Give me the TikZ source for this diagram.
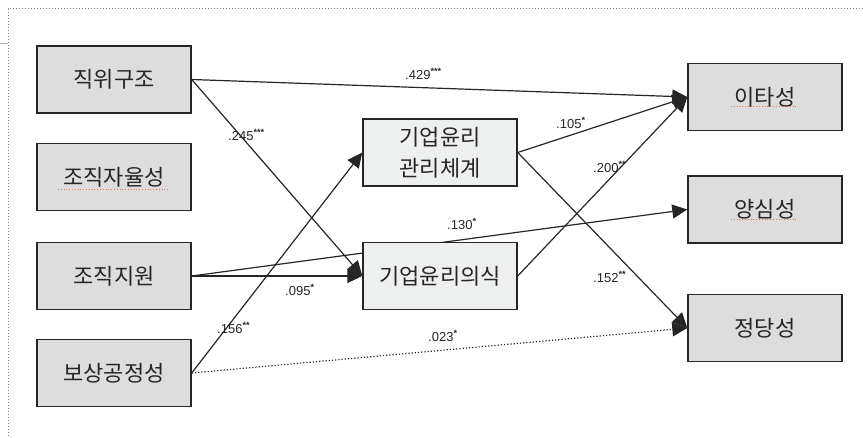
\documentclass[tikz,border=0pt]{standalone}
\usepackage{fontspec}
\setmainfont{Liberation Sans}
\newfontfamily\kofont{Noto Sans CJK KR}
\usetikzlibrary{arrows.meta,backgrounds}
\definecolor{boxGray}{HTML}{DDDDDD}
\definecolor{boxLight}{HTML}{EEF0F0}
\definecolor{lineDark}{HTML}{262626}
\definecolor{spellOrange}{HTML}{E8783A}

\begin{document}
\begin{tikzpicture}[x=1pt, y=-1pt, >={Triangle[length=15pt,width=14pt]},
    varbox/.style={draw=lineDark, line width=1.4pt, fill=boxGray,
        minimum width=154pt, minimum height=67pt, inner sep=0pt,
        font=\kofont\fontsize{22}{31}\selectfont, text=lineDark},
    midbox/.style={varbox, fill=boxLight, align=center},
    effect/.style={->, draw=lineDark, line width=1.2pt},
    coef/.style={anchor=west, inner sep=0pt, text=lineDark,
        font=\fontsize{13}{13}\selectfont},
    spell/.style={draw=spellOrange, dotted, line width=0.8pt}]

    \useasboundingbox (0,0) rectangle (863,438);

    % frame
    \draw[gray, dotted, line width=1pt] (863,9) -- (8,9) -- (8,438);
    \draw[gray!60, line width=0.8pt] (0,43) -- (8,43);

    % predictors
    \node[varbox] (rank)     at (114,79.5) {직위구조};
    \node[varbox] (autonomy) at (114,177)  {조직자율성};
    \node[varbox] (support)  at (114,276)  {조직지원};
    \node[varbox] (reward)   at (114,373)  {보상공정성};

    % mediators
    \node[midbox] (system)    at (440,152.5) {기업윤리\\관리체계};
    \node[midbox] (awareness) at (440,276)   {기업윤리의식};

    % outcomes
    \node[varbox] (altruism)   at (765,97)    {이타성};
    \node[varbox] (conscience) at (765,209.5) {양심성};
    \node[varbox] (justice)    at (765,328)   {정당성};

    % paths
    \begin{pgfonlayer}{background}
        \draw[effect] (rank.east) -- (altruism.west);
        \draw[effect] (rank.east) -- (awareness.west);
        \draw[effect] (support.east) -- (conscience.west);
        \draw[effect] (support.east) -- (awareness.west);
        \draw[effect] (reward.east) -- (system.west);
        \draw[effect, dotted] (reward.east) -- (justice.west);
        \draw[effect] (system.east) -- (altruism.west);
        \draw[effect] (system.east) -- (justice.west);
        \draw[effect] (awareness.east) -- (altruism.west);
    \end{pgfonlayer}

    % coefficients
    \node[coef] (c1) at (405,74)  {.429\textsuperscript{\textbf{***}}};
    \node[coef] (c2) at (228,135) {.245\textsuperscript{\textbf{***}}};
    \node[coef] (c3) at (556,123) {.105\textsuperscript{\textbf{*}}};
    \node[coef] (c4) at (593,167) {.200\textsuperscript{\textbf{**}}};
    \node[coef] (c5) at (447,224) {.130\textsuperscript{\textbf{*}}};
    \node[coef] (c6) at (285,290) {.095\textsuperscript{\textbf{*}}};
    \node[coef] (c7) at (217,328) {.156\textsuperscript{\textbf{**}}};
    \node[coef] (c8) at (428,336) {.023\textsuperscript{\textbf{*}}};
    \node[coef] (c9) at (593,277) {.152\textsuperscript{\textbf{**}}};

    % spell-check marks
    \draw[spell] (58,189) -- (169,189);
    \draw[spell] (731,106) -- (798,106);
    \draw[spell] (731,219) -- (798,219);

\end{tikzpicture}
\end{document}
